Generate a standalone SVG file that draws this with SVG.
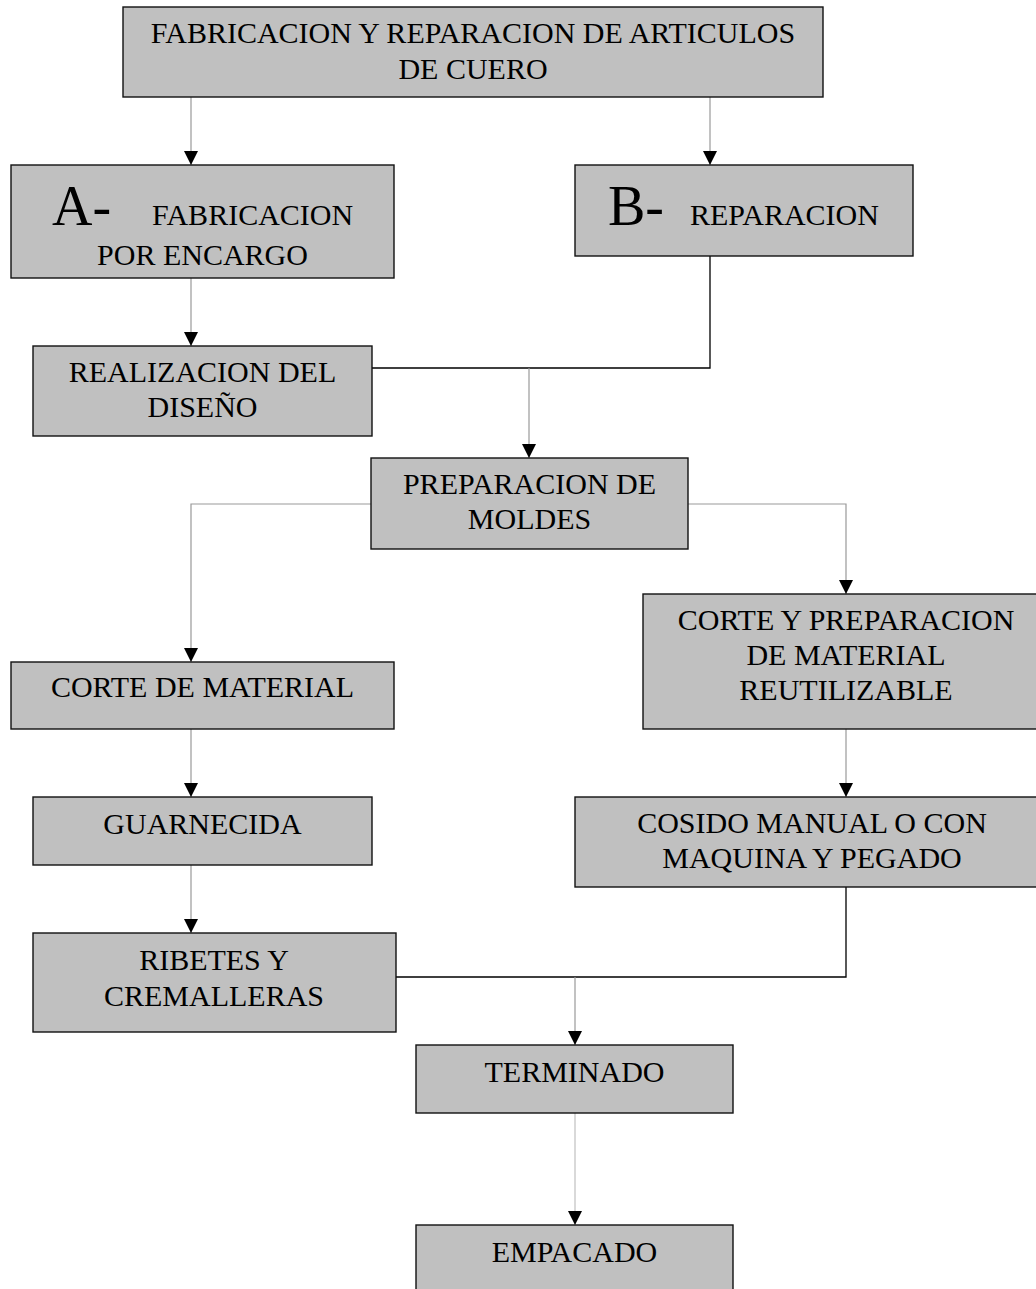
<svg xmlns="http://www.w3.org/2000/svg" width="1036" height="1289" viewBox="0 0 1036 1289">
<style>
.box{fill:#c0c0c0;stroke:#111;stroke-width:1.4}
.t{font-family:"Liberation Serif","Times New Roman",serif;font-size:30px;fill:#000;text-anchor:middle}
.ts{font-family:"Liberation Serif","Times New Roman",serif;font-size:30px;fill:#000}
.big{font-size:56px}
.c{fill:none;stroke:#999;stroke-width:1.2}
.k{fill:none;stroke:#000;stroke-width:1.3}
.l{fill:none;stroke:#ccc;stroke-width:1.5}
</style>
<defs>
<marker id="ah" markerUnits="userSpaceOnUse" markerWidth="14" markerHeight="14" refX="14" refY="7" orient="auto">
<path d="M0,0 L14,7 L0,14 z" fill="#000"/>
</marker>
</defs>
<rect width="1036" height="1289" fill="#fff"/>
<g id="connectors">
<path class="c" d="M191,97 V165" marker-end="url(#ah)"/>
<path class="c" d="M710,97 V165" marker-end="url(#ah)"/>
<path class="c" d="M191,278 V346" marker-end="url(#ah)"/>
<path class="k" d="M710,256 V368 H372"/>
<path class="c" d="M529,368 V458" marker-end="url(#ah)"/>
<path class="c" d="M371,504 H191 V662" marker-end="url(#ah)"/>
<path class="c" d="M688,504 H846 V594" marker-end="url(#ah)"/>
<path class="c" d="M191,729 V797" marker-end="url(#ah)"/>
<path class="c" d="M191,865 V933" marker-end="url(#ah)"/>
<path class="c" d="M846,729 V797" marker-end="url(#ah)"/>
<path class="k" d="M846,887 V977 H396"/>
<path class="c" d="M575,977 V1045" marker-end="url(#ah)"/>
<path class="l" d="M575,1113 V1225" marker-end="url(#ah)"/>
</g>
<g id="n-top">
<rect class="box" x="123" y="7" width="700" height="90"/>
<text class="t" x="473" y="43">FABRICACION Y REPARACION DE ARTICULOS</text>
<text class="t" x="473" y="79">DE CUERO</text>
</g>
<g id="n-a">
<rect class="box" x="11" y="165" width="383" height="113"/>
<text class="ts" x="52" y="225"><tspan class="big">A-</tspan></text>
<text class="ts" x="152" y="225">FABRICACION</text>
<text class="t" x="202.5" y="265">POR ENCARGO</text>
</g>
<g id="n-b">
<rect class="box" x="575" y="165" width="338" height="91"/>
<text class="ts" x="608" y="225"><tspan class="big">B-</tspan></text>
<text class="ts" x="690" y="225">REPARACION</text>
</g>
<g id="n-real">
<rect class="box" x="33" y="346" width="339" height="90"/>
<text class="t" x="202.5" y="382">REALIZACION DEL</text>
<text class="t" x="202.5" y="417">DISEÑO</text>
</g>
<g id="n-prep">
<rect class="box" x="371" y="458" width="317" height="91"/>
<text class="t" x="529.5" y="494">PREPARACION DE</text>
<text class="t" x="529.5" y="529">MOLDES</text>
</g>
<g id="n-corte">
<rect class="box" x="11" y="662" width="383" height="67"/>
<text class="t" x="202.5" y="697">CORTE DE MATERIAL</text>
</g>
<g id="n-cortey">
<rect class="box" x="643" y="594" width="406" height="135"/>
<text class="t" x="846" y="630">CORTE Y PREPARACION</text>
<text class="t" x="846" y="665">DE MATERIAL</text>
<text class="t" x="846" y="700">REUTILIZABLE</text>
</g>
<g id="n-guarn">
<rect class="box" x="33" y="797" width="339" height="68"/>
<text class="t" x="202.5" y="834">GUARNECIDA</text>
</g>
<g id="n-cosido">
<rect class="box" x="575" y="797" width="474" height="90"/>
<text class="t" x="812" y="833">COSIDO MANUAL O CON</text>
<text class="t" x="812" y="868">MAQUINA Y PEGADO</text>
</g>
<g id="n-ribetes">
<rect class="box" x="33" y="933" width="363" height="99"/>
<text class="t" x="214" y="970">RIBETES Y</text>
<text class="t" x="214" y="1006">CREMALLERAS</text>
</g>
<g id="n-term">
<rect class="box" x="416" y="1045" width="317" height="68"/>
<text class="t" x="574.5" y="1082">TERMINADO</text>
</g>
<g id="n-emp">
<rect class="box" x="416" y="1225" width="317" height="90"/>
<text class="t" x="574.5" y="1262">EMPACADO</text>
</g>
</svg>
